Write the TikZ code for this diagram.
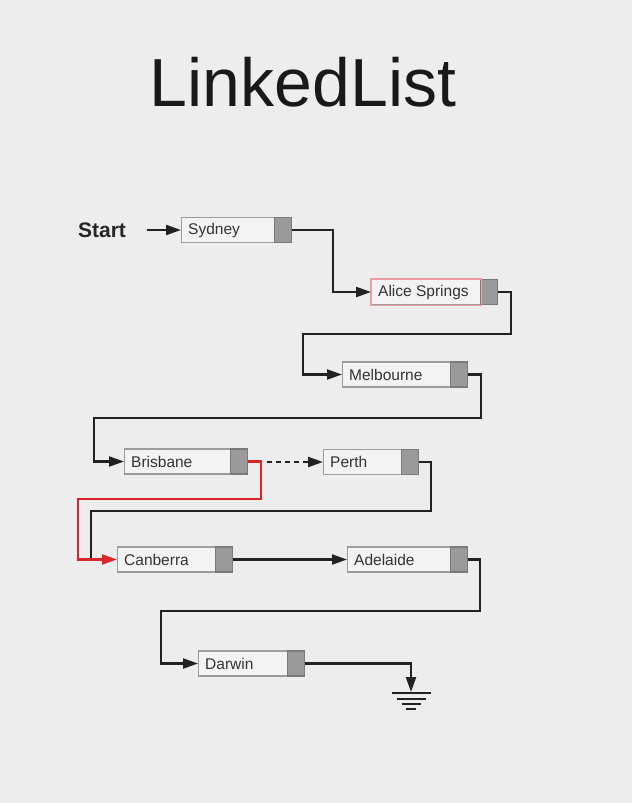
\documentclass[tikz,border=0pt]{standalone}
\usepackage{fontspec}
\setmainfont{Liberation Sans}
\usetikzlibrary{arrows.meta,calc}
\definecolor{bg}{HTML}{EDEDED}
\definecolor{boxfill}{HTML}{F3F3F3}
\definecolor{boxline}{HTML}{9C9C9C}
\definecolor{ptrfill}{HTML}{9A9A9A}
\definecolor{ptrline}{HTML}{7A7A7A}
\definecolor{wire}{HTML}{222222}
\definecolor{redwire}{HTML}{D9262B}
\definecolor{txt}{HTML}{333333}
\tikzset{
  llbox/.style={draw=boxline, fill=boxfill, line width=1.1pt, minimum height=25pt, inner sep=0pt, anchor=west},
  llptr/.style={draw=ptrline, fill=ptrfill, line width=1.1pt, minimum height=25pt, minimum width=17pt, inner sep=0pt, anchor=east},
  lltext/.style={anchor=west, inner sep=0pt, text=txt, font=\fontsize{15.5}{18}\selectfont},
  wireline/.style={draw=wire, line width=2.2pt},
  arrtip/.style={-{Triangle[length=15pt,width=10pt]}},
  arr/.style={wireline, arrtip},
  gndline/.style={draw=wire, line width=2pt}
}
\newcommand{\llbox}[5]{%
  \node[llbox, minimum width=#4] (#1) at (#2,#3) {};
  \node[lltext] (#1t) at ([xshift=7pt]#1.west) {#5};
  \node[llptr] (#1p) at (#1.east) {};
}
\begin{document}
\begin{tikzpicture}[x=1pt,y=-1pt]
\fill[bg] (0,0) rectangle (632,803);
\useasboundingbox (0,0) rectangle (632,803);

\node[text=black!90, font=\fontsize{68}{80}\selectfont] (title) at (303,82) {LinkedList};

\node[font=\fontsize{21}{25}\selectfont\bfseries, text=black!85] (start) at (102,230) {Start};

\llbox{syd}{181}{230}{110}{Sydney}
\llbox{alice}{371}{292}{126}{Alice Springs}
\draw[draw=redwire!45, line width=1.1pt] (alice.south west) rectangle ([xshift=-17pt]alice.north east);
\llbox{melb}{342}{374.5}{125}{Melbourne}
\llbox{bris}{124}{461.5}{123}{Brisbane}
\llbox{perth}{323}{462}{95}{Perth}
\llbox{can}{117}{559.5}{115}{Canberra}
\llbox{adel}{347}{559.5}{120}{Adelaide}
\llbox{dar}{198}{663.5}{106}{Darwin}

\coordinate (startarr) at (147,230);
\coordinate (dashstart) at (267,462);
\coordinate (pj) at ([xshift=-26pt]can.west);
\coordinate (gnd) at (411,692);

\draw[arr] (startarr) -- (syd.west);
\draw[arr] (sydp.east) -| ($(sydp.east)+(41,62)$) -- (alice.west);
\draw[arr] (alicep.east) -| (511,334) -| ([xshift=-39pt]melb.west) -- (melb.west);
\draw[arr] (melbp.east) -| (481,418) -| ([xshift=-30pt]bris.west) -- (bris.west);
\draw[arr, dash pattern=on 5pt off 4pt] (dashstart) -- (perth.west);
\draw[wireline] (perthp.east) -| (431,511) -| (pj);
\draw[draw=redwire, line width=2.2pt, arrtip] (brisp.east) -| (261,499) -| ([xshift=-39pt]can.west) -- (can.west);
\draw[arr] (canp.east) -- (adel.west);
\draw[arr] (adelp.east) -| (480,611) -| ([xshift=-37pt]dar.west) -- (dar.west);
\draw[arr] (darp.east) -| (gnd);

\draw[gndline] (392,693) -- (431,693);
\draw[gndline] (397,698.5) -- (426,698.5);
\draw[gndline] (401.5,704) -- (420.5,704);
\draw[gndline] (406,709) -- (416,709);
\end{tikzpicture}
\end{document}
